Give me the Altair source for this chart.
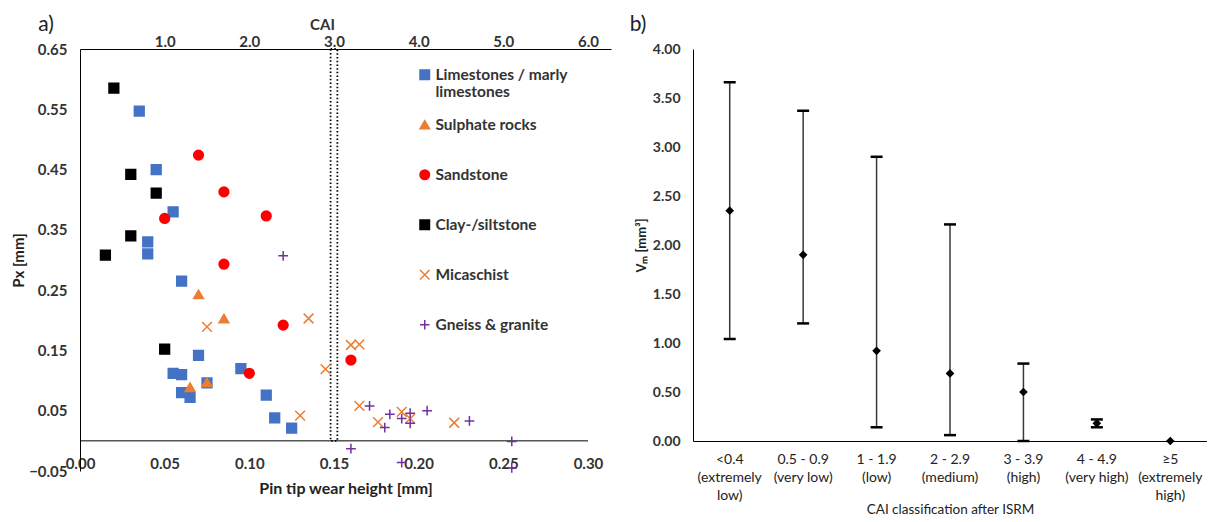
import altair as alt
import pandas as pd

FONT = "Lato"

# ---------------- panel a) data ----------------
series_names = ["Limestones / marly limestones", "Sulphate rocks", "Sandstone",
                "Clay-/siltstone", "Micaschist", "Gneiss & granite"]

lime_x = [0.035, 0.045, 0.055, 0.040, 0.040, 0.060, 0.070, 0.055, 0.060, 0.060, 0.065, 0.075, 0.095, 0.110, 0.115, 0.125]
lime_y = [0.547, 0.450, 0.380, 0.330, 0.310, 0.265, 0.142, 0.112, 0.110, 0.080, 0.072, 0.096, 0.120, 0.076, 0.038, 0.021]
sulph_x = [0.070, 0.085, 0.065, 0.075]
sulph_y = [0.243, 0.203, 0.089, 0.097]
sand_x = [0.070, 0.085, 0.110, 0.050, 0.085, 0.120, 0.100, 0.160]
sand_y = [0.474, 0.413, 0.373, 0.369, 0.293, 0.192, 0.112, 0.134]
clay_x = [0.020, 0.030, 0.045, 0.030, 0.015, 0.050]
clay_y = [0.585, 0.442, 0.411, 0.340, 0.308, 0.152]
mica_x = [0.075, 0.135, 0.130, 0.145, 0.160, 0.165, 0.165, 0.176, 0.190, 0.195, 0.221]
mica_y = [0.189, 0.203, 0.042, 0.119, 0.159, 0.160, 0.058, 0.031, 0.048, 0.037, 0.030]
gneiss_x = [0.120, 0.171, 0.183, 0.180, 0.190, 0.195, 0.195, 0.205, 0.230, 0.255, 0.160, 0.190, 0.255]
gneiss_y = [0.307, 0.058, 0.044, 0.022, 0.037, 0.046, 0.029, 0.050, 0.033, -0.001, -0.013, -0.036, -0.045]

# CAI = 3.0 boundary band (dotted box)
band_cai = [2.96, 3.04]

x_ticks_a = [0.00, 0.05, 0.10, 0.15, 0.20, 0.25, 0.30]
y_ticks_a = [-0.05, 0.05, 0.15, 0.25, 0.35, 0.45, 0.55, 0.65]
cai_ticks = [1.0, 2.0, 3.0, 4.0, 5.0, 6.0]

fill_colors = ["#4472C4", "#ED7D31", "#FF0000", "#000000", "transparent", "transparent"]
stroke_colors = ["#4472C4", "#ED7D31", "#FF0000", "#000000", "#ED7D31", "#7030A0"]
shapes = ["square", "triangle-up", "circle", "square",
          "M-1,-1L1,1M-1,1L1,-1", "M-1,0L1,0M0,-1L0,1"]

# ---------------- panel b) data ----------------
cats = ["<0.4|(extremely|low)", "0.5 - 0.9|(very low)", "1 - 1.9|(low)", "2 - 2.9|(medium)",
        "3 - 3.9|(high)", "4 - 4.9|(very high)", "\u22655|(extremely|high)"]
means = [2.35, 1.90, 0.92, 0.69, 0.50, 0.18, 0.00]
upper = [3.66, 3.37, 2.90, 2.21, 0.79, 0.22, 0.00]
lower = [1.04, 1.20, 0.14, 0.06, 0.00, 0.14, 0.00]
y_ticks_b = [0, 0.5, 1.0, 1.5, 2.0, 2.5, 3.0, 3.5, 4.0]

# ---------------- build panel a ----------------
rows = []
for name, xs, ys in zip(series_names,
                        [lime_x, sulph_x, sand_x, clay_x, mica_x, gneiss_x],
                        [lime_y, sulph_y, sand_y, clay_y, mica_y, gneiss_y]):
    for a, b in zip(xs, ys):
        rows.append({"series": name, "wear": a, "px": b})
df_a = pd.DataFrame(rows)

WMAX = 0.3136
wear_scale = alt.Scale(domain=[0, WMAX], nice=False, zero=False)
cai_scale = alt.Scale(domain=[0, WMAX * 20], nice=False, zero=False)
y_scale_a = alt.Scale(domain=[-0.05, 0.65], nice=False, zero=False)

LAB = 15
y_axis_a = alt.Axis(values=y_ticks_a, format=".2f", title="Px [mm]", grid=False, ticks=False,
                    domainColor="black", labelPadding=13, titlePadding=2, labelFlush=False,
                    labelFont=FONT, labelFontSize=LAB, labelFontWeight="bold", labelColor="#333333",
                    titleFont=FONT, titleFontSize=15, titleFontWeight="bold", titleColor="#222222")

legend = alt.Legend(title=None, orient="none", legendX=337, legendY=18, symbolSize=90,
                    symbolStrokeWidth=1.5, labelFont=FONT, labelFontSize=15.5, labelFontWeight="bold",
                    labelColor="#333333", labelOffset=3, rowPadding=16, padding=0, labelLimit=300,
                    labelExpr="datum.label == 'Limestones / marly limestones' ? ['Limestones / marly', 'limestones'] : [datum.label, '']")

points = alt.Chart(df_a).mark_point(size=95, strokeWidth=1.5, opacity=1).encode(
    x=alt.X("wear:Q", scale=wear_scale,
            axis=alt.Axis(values=x_ticks_a, format=".2f", orient="bottom", offset=-30, domain=False,
                          ticks=False, grid=False, labelPadding=15, labelFlush=False, labelOverlap=False,
                          title="Pin tip wear height [mm]", titlePadding=9,
                          labelFont=FONT, labelFontSize=LAB, labelFontWeight="bold", labelColor="#333333",
                          titleFont=FONT, titleFontSize=16, titleFontWeight="bold", titleColor="#222222")),
    y=alt.Y("px:Q", scale=y_scale_a, axis=y_axis_a),
    shape=alt.Shape("series:N", scale=alt.Scale(domain=series_names, range=shapes), legend=legend),
    fill=alt.Fill("series:N", scale=alt.Scale(domain=series_names, range=fill_colors), legend=legend),
    stroke=alt.Stroke("series:N", scale=alt.Scale(domain=series_names, range=stroke_colors), legend=legend),
)

band_df = pd.DataFrame({"c1": [band_cai[0]], "c2": [band_cai[1]], "px": [0.0], "px2": [0.65]})
band = alt.Chart(band_df).mark_rect(fill="transparent", stroke="black", strokeDash=[1.5, 2.2],
                                    strokeWidth=1.8).encode(
    x=alt.X("c1:Q", scale=cai_scale,
            axis=alt.Axis(orient="top", values=cai_ticks, format=".1f", ticks=False, grid=False,
                          domainColor="black", labelPadding=0, labelFlush=False, labelOverlap=False,
                          title="CAI", titleX=242, titleY=-17, titleAlign="center", titleBaseline="bottom",
                          labelFont=FONT, labelFontSize=LAB, labelFontWeight="bold", labelColor="#333333",
                          titleFont=FONT, titleFontSize=15, titleFontWeight="bold", titleColor="#333333")),
    x2="c2:Q",
    y=alt.Y("px:Q", scale=y_scale_a, axis=y_axis_a),
    y2="px2:Q",
)

axis_line_df = pd.DataFrame({"wear": [x_ticks_a[0]], "wear2": [x_ticks_a[-1]], "px": [0.0]})
axis_line = alt.Chart(axis_line_df).mark_rule(color="black", strokeWidth=1).encode(
    x=alt.X("wear:Q", scale=wear_scale, axis=None),
    x2="wear2:Q",
    y=alt.Y("px:Q", scale=y_scale_a, axis=y_axis_a),
)

lab_a = alt.Chart(pd.DataFrame({"t": ["a)"]})).mark_text(
    font=FONT, fontSize=21, color="#222222", baseline="middle", align="center").encode(
    text="t:N", x=alt.value(-34), y=alt.value(-24))

left = alt.layer(band, axis_line, points, lab_a).resolve_scale(x="independent").properties(
    width=531, height=422)

# ---------------- build panel b ----------------
df_b = pd.DataFrame({"cat": cats, "mean": means, "lo": lower, "hi": upper})

xb = alt.X("cat:N", sort=cats, scale=alt.Scale(domain=cats, paddingInner=0, paddingOuter=0),
           axis=alt.Axis(title="CAI classification after ISRM", labelAngle=0, ticks=False, grid=False,
                         labelExpr="split(datum.label, '|')", labelBaseline="top", labelLineHeight=18,
                         labelPadding=11, domainColor="black", titleY=61, labelLimit=200,
                         labelFont=FONT, labelFontSize=14, labelColor="#222222",
                         titleFont=FONT, titleFontSize=13.5, titleFontWeight="normal", titleColor="#222222"))
y_axis_b = alt.Axis(values=y_ticks_b, format=".2f", title="V\u2098 [mm\u00b3]", grid=False, ticks=False,
                    domainColor="black", labelPadding=13, titlePadding=4,
                    labelFont=FONT, labelFontSize=14, labelFontWeight="bold", labelColor="#333333",
                    titleFont=FONT, titleFontSize=13, titleFontWeight="bold", titleColor="#222222")
y_scale_b = alt.Scale(domain=[0, 4], nice=False)

base_b = alt.Chart(df_b)
err = base_b.transform_filter("datum.hi > datum.lo")
rules = err.mark_rule(color="#3a3a3a", strokeWidth=1.5).encode(
    x=xb, y=alt.Y("lo:Q", scale=y_scale_b, axis=y_axis_b), y2="hi:Q")
cap_hi = err.mark_tick(color="black", thickness=2.5, size=12, opacity=1).encode(
    x=xb, y=alt.Y("hi:Q", scale=y_scale_b, axis=y_axis_b))
cap_lo = err.mark_tick(color="black", thickness=2.5, size=12, opacity=1).encode(
    x=xb, y=alt.Y("lo:Q", scale=y_scale_b, axis=y_axis_b))
pts = base_b.mark_point(shape="diamond", filled=True, size=75, color="black", opacity=1).encode(
    x=xb, y=alt.Y("mean:Q", scale=y_scale_b, axis=y_axis_b))

lab_b = alt.Chart(pd.DataFrame({"t": ["b)"]})).mark_text(
    font=FONT, fontSize=21, color="#222222", baseline="middle", align="center").encode(
    text="t:N", x=alt.value(-55), y=alt.value(-24))

right = alt.layer(rules, cap_hi, cap_lo, pts, lab_b).properties(width=514, height=392)

chart = alt.hconcat(left, right, spacing=82, bounds="flush").configure_view(stroke=None).properties(
    padding={"left": 3, "top": 6, "right": 0, "bottom": 0})

chart.save("out.html", embed_options={"renderer": "svg", "actions": False})
